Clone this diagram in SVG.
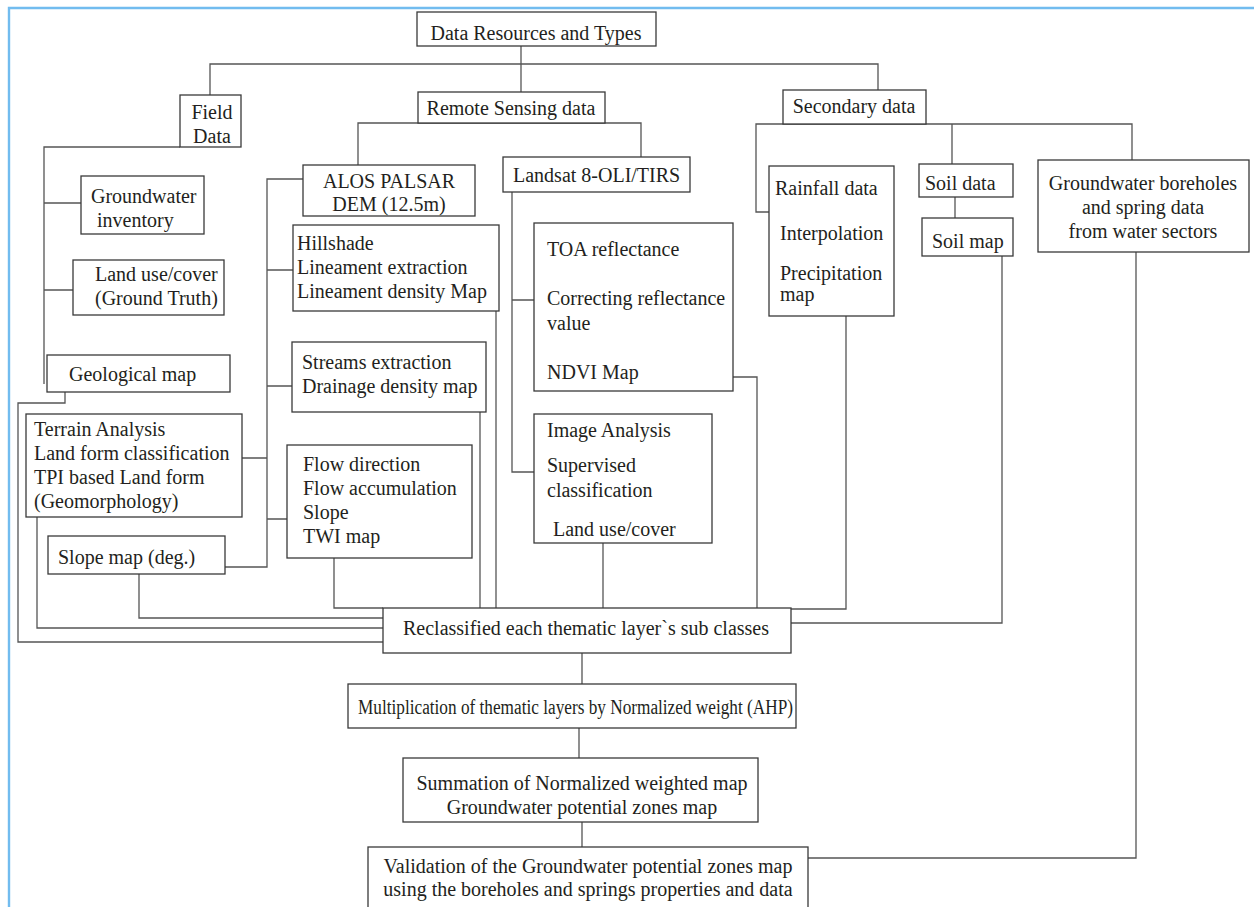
<svg xmlns="http://www.w3.org/2000/svg" width="1254" height="907" viewBox="0 0 1254 907">
<style>
.box{fill:#fff;stroke:#3a3a3a;stroke-width:1.3}
.c{fill:none;stroke:#555;stroke-width:1.3}
text{font-family:"Liberation Serif","Times New Roman",serif;font-size:20px;fill:#231f20}
.m{text-anchor:middle}
</style>
<rect x="0" y="0" width="1254" height="907" fill="#fff"/>
<path d="M9,907 V8 H1254" fill="none" stroke="#72bcef" stroke-width="2.4"/>
<g id="connectors">
<path class="c" d="M210,95 V64 H878 V90"/>
<path class="c" d="M521,46 V92"/>
<path class="c" d="M180,147 H44 V384"/>
<path class="c" d="M44,203 H81 M44,290 H73"/>
<path class="c" d="M65,392 V403 H18 V642 H383"/>
<path class="c" d="M37,517 V628 H383"/>
<path class="c" d="M139,574 V618 H383"/>
<path class="c" d="M334,558 V608 H383"/>
<path class="c" d="M303,179 H267 V567 H225"/>
<path class="c" d="M267,270 H293 M267,386 H292 M242,458 H267 M267,519 H287"/>
<path class="c" d="M358,165 V123 H641 V157"/>
<path class="c" d="M512,192 V472 H534 M512,300 H534"/>
<path class="c" d="M496,311 V608"/>
<path class="c" d="M480,412 V608"/>
<path class="c" d="M603,543 V608"/>
<path class="c" d="M733,377 H757 V608"/>
<path class="c" d="M846,316 V609 H791"/>
<path class="c" d="M1002,256 V623 H791"/>
<path class="c" d="M769,212 H756 V124 H1132 V160 M952,124 V164"/>
<path class="c" d="M955,197 V218"/>
<path class="c" d="M1136,252 V858 H808"/>
<path class="c" d="M582,653 V684 M579,728 V758 M582,822 V847"/>
</g>
<g id="n-data-resources"><rect class="box" x="417" y="12" width="239" height="34"/><text class="m" x="536" y="40">Data Resources and Types</text></g>
<g id="n-field-data"><rect class="box" x="180" y="95" width="61" height="52"/><text class="m" x="212" y="119">Field</text><text class="m" x="212" y="143">Data</text></g>
<g id="n-remote-sensing"><rect class="box" x="418" y="92" width="187" height="31"/><text class="m" x="511" y="115">Remote Sensing data</text></g>
<g id="n-secondary"><rect class="box" x="783" y="90" width="143" height="34"/><text class="m" x="854" y="113">Secondary data</text></g>
<g id="n-gw-inventory"><rect class="box" x="81" y="176" width="123" height="58"/><text x="91" y="203">Groundwater</text><text x="97" y="227">inventory</text></g>
<g id="n-landuse-gt"><rect class="box" x="73" y="260" width="151" height="55"/><text x="95" y="281">Land use/cover</text><text x="95" y="305">(Ground Truth)</text></g>
<g id="n-geological"><rect class="box" x="47" y="355" width="183" height="37"/><text x="69" y="381">Geological map</text></g>
<g id="n-terrain"><rect class="box" x="26" y="414" width="216" height="103"/><text x="34" y="436">Terrain Analysis</text><text x="34" y="460">Land form classification</text><text x="34" y="484">TPI based Land form</text><text x="34" y="508">(Geomorphology)</text></g>
<g id="n-slope-map"><rect class="box" x="48" y="536" width="177" height="38"/><text x="58" y="564">Slope map (deg.)</text></g>
<g id="n-alos"><rect class="box" x="303" y="165" width="172" height="51"/><text class="m" x="389" y="188">ALOS PALSAR</text><text class="m" x="389" y="211">DEM (12.5m)</text></g>
<g id="n-hillshade"><rect class="box" x="293" y="225" width="206" height="86"/><text x="297" y="250">Hillshade</text><text x="297" y="274">Lineament extraction</text><text x="297" y="298">Lineament density Map</text></g>
<g id="n-streams"><rect class="box" x="292" y="342" width="194" height="70"/><text x="302" y="369">Streams extraction</text><text x="302" y="393">Drainage density map</text></g>
<g id="n-flow"><rect class="box" x="287" y="445" width="185" height="113"/><text x="303" y="471">Flow direction</text><text x="303" y="495">Flow accumulation</text><text x="303" y="519">Slope</text><text x="303" y="543">TWI map</text></g>
<g id="n-landsat"><rect class="box" x="503" y="157" width="187" height="35"/><text x="513" y="182">Landsat 8-OLI/TIRS</text></g>
<g id="n-toa"><rect class="box" x="534" y="223" width="199" height="168"/><text x="547" y="256">TOA reflectance</text><text x="547" y="305">Correcting reflectance</text><text x="547" y="330">value</text><text x="547" y="379">NDVI Map</text></g>
<g id="n-image-analysis"><rect class="box" x="534" y="414" width="178" height="129"/><text x="547" y="437">Image Analysis</text><text x="547" y="472">Supervised</text><text x="547" y="497">classification</text><text x="553" y="536">Land use/cover</text></g>
<g id="n-rainfall"><rect class="box" x="769" y="166" width="125" height="150"/><text x="775" y="195">Rainfall data</text><text x="780" y="240">Interpolation</text><text x="780" y="280">Precipitation</text><text x="780" y="301">map</text></g>
<g id="n-soil-data"><rect class="box" x="919" y="164" width="94" height="33"/><text x="925" y="190">Soil data</text></g>
<g id="n-soil-map"><rect class="box" x="922" y="218" width="91" height="38"/><text x="932" y="248">Soil map</text></g>
<g id="n-boreholes"><rect class="box" x="1038" y="160" width="211" height="92"/><text class="m" x="1143" y="190">Groundwater boreholes</text><text class="m" x="1143" y="214">and spring data</text><text class="m" x="1143" y="238">from water sectors</text></g>
<g id="n-reclass"><rect class="box" x="383" y="608" width="408" height="45"/><text class="m" x="586" y="635">Reclassified each thematic layer`s sub classes</text></g>
<g id="n-multiplication"><rect class="box" x="348" y="684" width="448" height="44"/><text x="358" y="714" textLength="435" lengthAdjust="spacingAndGlyphs">Multiplication of thematic layers by Normalized weight (AHP)</text></g>
<g id="n-summation"><rect class="box" x="403" y="758" width="355" height="64"/><text class="m" x="582" y="790">Summation of Normalized weighted map</text><text class="m" x="582" y="814">Groundwater potential zones map</text></g>
<g id="n-validation"><rect class="box" x="368" y="847" width="440" height="70"/><text class="m" x="588" y="873">Validation of the Groundwater potential zones map</text><text class="m" x="588" y="896">using the boreholes and springs properties and data</text></g>
</svg>
